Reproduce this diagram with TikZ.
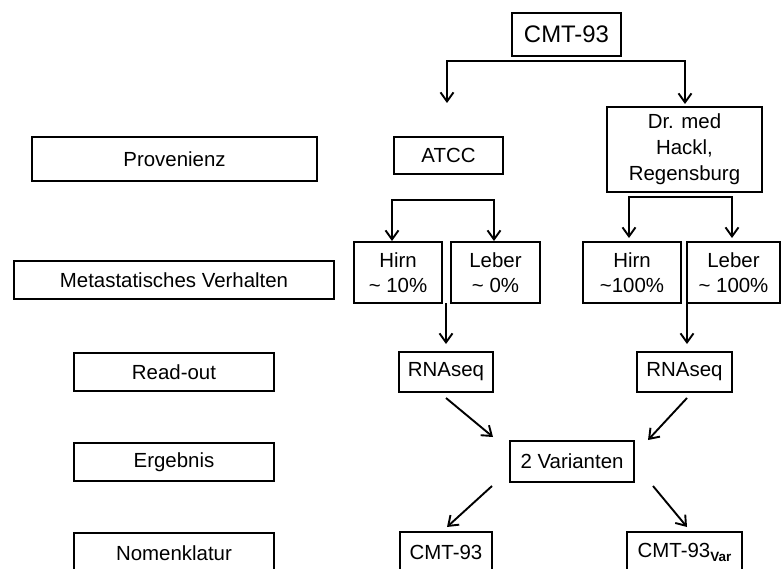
\documentclass[tikz,border=0pt]{standalone}
\usepackage{fontspec}
\setmainfont{Liberation Sans}
\usetikzlibrary{arrows.meta}
\tikzset{
  box/.style={draw=black, line width=1.3bp, inner sep=0pt, align=center,
    font=\fontsize{20.5}{24.5}\selectfont},
  arr/.style={line width=1.9bp, -{Straight Barb[length=9bp,width=13bp,line width=1.9bp]}},
  arr2/.style={line width=1.9bp, {Straight Barb[length=9bp,width=13bp,line width=1.9bp]}-{Straight Barb[length=9bp,width=13bp,line width=1.9bp]}},
}
\begin{document}
\begin{tikzpicture}[x=1bp,y=-1bp]
\useasboundingbox (0,0) rectangle (781,569);
\clip (0,0) rectangle (781,569);
% left column labels
\node[box, minimum width=285bp, minimum height=44bp] (prov) at (174.5,159) {Provenienz};
\node[box, minimum width=320bp, minimum height=38bp] (meta) at (174,280) {Metastatisches Verhalten};
\node[box, minimum width=200bp, minimum height=38bp] (read) at (174,372) {Read-out};
\node[box, minimum width=200bp, minimum height=38bp] (erg) at (174,462) {Ergebnis};
\node[box, minimum width=200bp, minimum height=40bp] (nom) at (174,553) {Nomenklatur};
% main tree
\node[box, minimum width=109bp, minimum height=43bp, font=\fontsize{24}{28}\selectfont] (top) at (566.5,34.5) {CMT-93};
\node[box, minimum width=109bp, minimum height=37bp] (atcc) at (448.5,155.5) {ATCC};
\node[box, minimum width=155bp, minimum height=85bp, font=\fontsize{20.5}{26}\selectfont] (dr) at (684.5,149.5) {Dr. med\\Hackl,\\Regensburg};
\node[box, minimum width=88bp, minimum height=61bp] (hl) at (398,272.5) {Hirn\\\textasciitilde{} 10\%};
\node[box, minimum width=89bp, minimum height=61bp] (ll) at (495.5,272.5) {Leber\\\textasciitilde{} 0\%};
\node[box, minimum width=98bp, minimum height=61bp] (hr) at (632,272.5) {Hirn\\\textasciitilde{}100\%};
\node[box, minimum width=93bp, minimum height=61bp] (lr) at (733.5,272.5) {Leber\\\textasciitilde{} 100\%};
\node[box, minimum width=94bp, minimum height=40bp] (rnal) at (446,372) {RNAseq};
\node[box, minimum width=95bp, minimum height=40bp] (rnar) at (684.5,372) {RNAseq};
\node[box, minimum width=124bp, minimum height=41bp] (var) at (572,461.5) {2 Varianten};
\node[box, minimum width=92bp, minimum height=40bp] (cmtl) at (446,552) {CMT-93};
\node[box, minimum width=115bp, minimum height=40bp] (cmtr) at (684.5,552) {CMT-93{\fontsize{13.5}{14}\selectfont\bfseries\raisebox{-4bp}{Var}}};
% connector coordinates
\coordinate (t1) at (447,103);
\coordinate (c1) at (447,61);
\coordinate (c2) at (685,61);
\coordinate (t2) at (685,104);
\coordinate (t3) at (392,241);
\coordinate (c3) at (392,200);
\coordinate (c4) at (494,200);
\coordinate (t4) at (494,241);
\coordinate (t5) at (629,238);
\coordinate (c5) at (629,197);
\coordinate (c6) at (732,197);
\coordinate (t6) at (732,238);
\coordinate (s7) at (446,303);
\coordinate (t7) at (446,344);
\coordinate (s8) at (687,303);
\coordinate (t8) at (687,344);
\coordinate (s9) at (446,398);
\coordinate (t9) at (493,437);
\coordinate (s10) at (687,398);
\coordinate (t10) at (648,440);
\coordinate (s11) at (492,486);
\coordinate (t11) at (447,527);
\coordinate (s12) at (653,486);
\coordinate (t12) at (687,527);
% connectors
\draw[arr2] (t1) -- (c1) -- (c2) -- (t2);
\draw[arr2] (t3) -- (c3) -- (c4) -- (t4);
\draw[arr2] (t5) -- (c5) -- (c6) -- (t6);
\draw[arr] (s7) -- (t7);
\draw[arr] (s8) -- (t8);
\draw[arr] (s9) -- (t9);
\draw[arr] (s10) -- (t10);
\draw[arr] (s11) -- (t11);
\draw[arr] (s12) -- (t12);
\end{tikzpicture}
\end{document}
